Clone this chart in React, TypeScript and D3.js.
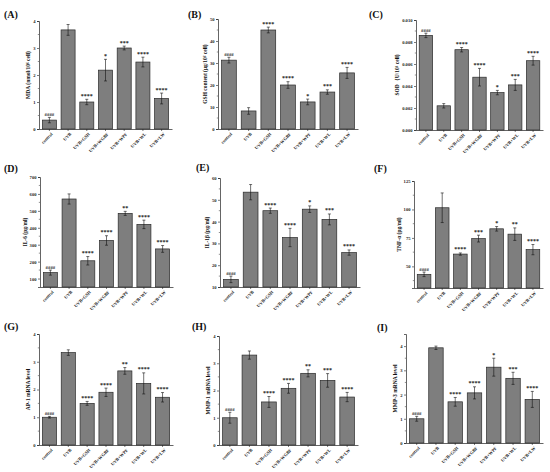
import { useRef, useEffect } from 'react';
import * as d3 from 'd3';

const categories = ['control', 'UVB', 'UVB+GSH', 'UVB+WGBF', 'UVB+WPF', 'UVB+WL', 'UVB+LW'];

// per-panel values
const mdaMean = [0.33, 3.67, 1.0, 2.18, 3.0, 2.48, 1.13];
const mdaErr = [0.1, 0.2, 0.1, 0.4, 0.07, 0.18, 0.2];
const mdaSig = ['####', '', '****', '*', '***', '****', '****'];

const gshMean = [31.3, 8.2, 45.0, 20.0, 12.3, 16.8, 25.5];
const gshErr = [1.3, 1.5, 1.3, 1.5, 1.3, 1.0, 2.5];
const gshSig = ['####', '', '****', '****', '*', '***', '****'];

const sodMean = [0.0086, 0.0022, 0.0073, 0.0048, 0.0034, 0.0041, 0.0063];
const sodErr = [0.0002, 0.0002, 0.0002, 0.0008, 0.0002, 0.0005, 0.0004];
const sodSig = ['####', '', '****', '****', '*', '***', '****'];

const il6Mean = [135, 570, 205, 325, 485, 420, 275];
const il6Err = [15, 30, 25, 28, 12, 25, 20];
const il6Sig = ['####', '', '****', '****', '**', '****', '****'];

const il1bMean = [13.5, 53.5, 45.0, 32.7, 45.7, 41.0, 25.8];
const il1bErr = [1.5, 3.5, 1.2, 4.2, 1.5, 2.5, 1.2];
const il1bSig = ['####', '', '****', '****', '*', '***', '****'];

const tnfMean = [43, 101.5, 60.8, 74.4, 83, 78.3, 64.7];
const tnfErr = [2, 13, 1, 3, 2, 5.5, 4.5];
const tnfSig = ['####', '', '****', '***', '*', '**', '****'];

const ap1Mean = [1.0, 3.33, 1.5, 1.9, 2.67, 2.22, 1.72];
const ap1Err = [0.03, 0.1, 0.07, 0.15, 0.12, 0.38, 0.17];
const ap1Sig = ['####', '', '****', '****', '**', '****', '****'];

const mmp1Mean = [1.0, 3.3, 1.58, 2.08, 2.63, 2.37, 1.76];
const mmp1Err = [0.2, 0.15, 0.2, 0.18, 0.13, 0.25, 0.17];
const mmp1Sig = ['####', '', '****', '****', '**', '***', '****'];

const mmp3Mean = [1.0, 3.93, 1.7, 2.07, 3.13, 2.67, 1.8];
const mmp3Err = [0.1, 0.07, 0.18, 0.25, 0.37, 0.25, 0.33];
const mmp3Sig = ['####', '', '****', '****', '*', '***', '****'];

const panels = [
  { letter: '(A)', label: 'MDA (nmol/10⁶ cell)', mean: mdaMean, err: mdaErr, sig: mdaSig, domain: [0, 4], ticks: [0, 1, 2, 3, 4], fmt: '' },
  { letter: '(B)', label: 'GSH content (μg/10⁶ cell)', mean: gshMean, err: gshErr, sig: gshSig, domain: [0, 50], ticks: [0, 10, 20, 30, 40, 50], fmt: '' },
  { letter: '(C)', label: 'SOD（U/10⁴ cell)', mean: sodMean, err: sodErr, sig: sodSig, domain: [0, 0.01], ticks: [0, 0.002, 0.004, 0.006, 0.008, 0.01], fmt: '.3f' },
  { letter: '(D)', label: 'IL-6 (pg/ml)', mean: il6Mean, err: il6Err, sig: il6Sig, domain: [50, 700], ticks: [100, 200, 300, 400, 500, 600, 700], fmt: '' },
  { letter: '(E)', label: 'IL-1β (pg/ml)', mean: il1bMean, err: il1bErr, sig: il1bSig, domain: [10, 60], ticks: [10, 20, 30, 40, 50, 60], fmt: '' },
  { letter: '(F)', label: 'TNF-α (pg/ml)', mean: tnfMean, err: tnfErr, sig: tnfSig, domain: [31, 125], ticks: [50, 75, 100, 125], fmt: '' },
  { letter: '(G)', label: 'AP-1 mRNA level', mean: ap1Mean, err: ap1Err, sig: ap1Sig, domain: [0, 4], ticks: [0, 1, 2, 3, 4], fmt: '' },
  { letter: '(H)', label: 'MMP-1 mRNA level', mean: mmp1Mean, err: mmp1Err, sig: mmp1Sig, domain: [0, 4], ticks: [0, 1, 2, 3, 4], fmt: '' },
  { letter: '(I)', label: 'MMP-3 mRNA level', mean: mmp3Mean, err: mmp3Err, sig: mmp3Sig, domain: [0, 4.5], ticks: [0, 1, 2, 3, 4], fmt: '' },
];

// plot frames: [left, right, top, bottom], and letter position
const frames = [
  [39, 172, 21, 129], [218, 358, 19, 129], [416, 543, 20, 130],
  [40, 173, 177, 287], [220, 360, 178, 287], [414, 543, 181, 288],
  [39, 173, 334, 445], [219, 358, 336, 445], [406, 543, 334, 443],
];
const letterPos = [
  [4, 18], [188, 18], [369, 18],
  [4, 172], [196, 171], [374, 172],
  [4, 330], [192, 330], [377, 331],
];

const FONT = '"Liberation Serif", "Times New Roman", serif';

export default function App() {
  const svgRef = useRef<SVGSVGElement>(null);

  useEffect(() => {
    if (!svgRef.current) return;
    const svg = d3.select(svgRef.current);
    svg.selectAll('*').remove();

    panels.forEach((p, i) => {
      const [left, right, top, bottom] = frames[i];
      const g = svg.append('g').style('font-family', FONT).style('font-weight', 'bold');

      const x = d3.scaleBand<string>()
        .domain(categories)
        .range([left, right])
        .paddingInner(0.25)
        .paddingOuter(0.18);
      const y = d3.scaleLinear().domain(p.domain).range([bottom, top]);

      // letter
      g.append('text')
        .attr('x', letterPos[i][0])
        .attr('y', letterPos[i][1])
        .attr('font-size', 10)
        .attr('fill', '#111')
        .text(p.letter);

      // bars
      const data = categories.map((c, k) => ({ c, v: p.mean[k], e: p.err[k], s: p.sig[k] }));
      g.selectAll('.bar')
        .data(data)
        .enter().append('rect')
        .attr('x', d => x(d.c) || 0)
        .attr('y', d => y(d.v))
        .attr('width', x.bandwidth())
        .attr('height', d => y(p.domain[0]) - y(d.v))
        .attr('fill', '#7e7e7e')
        .attr('stroke', '#2a2a2a')
        .attr('stroke-width', 0.7);

      // error bars
      const eb = g.append('g').attr('stroke', '#111').attr('stroke-width', 0.6);
      data.forEach(d => {
        const cx = (x(d.c) || 0) + x.bandwidth() / 2;
        eb.append('line').attr('x1', cx).attr('x2', cx).attr('y1', y(d.v - d.e)).attr('y2', y(d.v + d.e));
        eb.append('line').attr('x1', cx - 1.5).attr('x2', cx + 1.5).attr('y1', y(d.v - d.e)).attr('y2', y(d.v - d.e));
        eb.append('line').attr('x1', cx - 1.5).attr('x2', cx + 1.5).attr('y1', y(d.v + d.e)).attr('y2', y(d.v + d.e));
      });

      // significance marks
      g.selectAll('.sig')
        .data(data)
        .enter().append('text')
        .attr('x', d => (x(d.c) || 0) + x.bandwidth() / 2)
        .attr('y', d => y(d.v + d.e) - 1.5)
        .attr('text-anchor', 'middle')
        .attr('font-size', d => (d.s.startsWith('#') ? 4.8 : 6))
        .attr('fill', '#222')
        .text(d => d.s);

      // y axis
      const fmt = p.fmt ? d3.format(p.fmt) : d3.format('');
      const yAxis = g.append('g')
        .attr('transform', `translate(${left},0)`)
        .call(d3.axisLeft(y).tickValues(p.ticks).tickSize(2).tickPadding(1.5).tickFormat(d => fmt(d as number)));
      yAxis.selectAll('text').attr('font-size', 4.6).attr('fill', '#222').style('font-family', FONT);
      yAxis.select('.domain').attr('stroke', '#222').attr('stroke-width', 0.7);
      yAxis.selectAll('.tick line').attr('stroke', '#222').attr('stroke-width', 0.6);

      // minor ticks
      const step = p.ticks[1] - p.ticks[0];
      const minors = d3.range(p.ticks[0] - step / 2, p.domain[1] + 1e-9, step)
        .filter(v => v > p.domain[0] && v < p.domain[1]);
      g.selectAll('.minor')
        .data(minors)
        .enter().append('line')
        .attr('x1', left - 1.2)
        .attr('x2', left)
        .attr('y1', d => y(d))
        .attr('y2', d => y(d))
        .attr('stroke', '#222')
        .attr('stroke-width', 0.5);

      // x axis
      const xAxis = g.append('g')
        .attr('transform', `translate(0,${bottom})`)
        .call(d3.axisBottom(x).tickSize(2).tickSizeOuter(0));
      xAxis.select('.domain').attr('stroke', '#222').attr('stroke-width', 0.7);
      xAxis.selectAll('.tick line').attr('stroke', '#222').attr('stroke-width', 0.6);
      xAxis.selectAll('text')
        .attr('font-size', 4.5)
        .attr('fill', '#222')
        .style('font-family', FONT)
        .style('text-anchor', 'end')
        .attr('dx', '-0.3em')
        .attr('dy', '0.3em')
        .attr('transform', 'rotate(-45)');

      // y label
      const tickW = d3.max(p.ticks.map(t => fmt(t).length)) || 1;
      g.append('text')
        .attr('transform', `translate(${left - 6.5 - tickW * 2.2},${(top + bottom) / 2}) rotate(-90)`)
        .attr('text-anchor', 'middle')
        .attr('font-size', 5.5)
        .attr('fill', '#111')
        .text(p.label);
    });
  }, []);

  return (
    <div style={{ position: 'absolute', left: 0, top: 0 }}>
      <svg ref={svgRef} width={550} height={472} style={{ display: 'block', background: '#fff' }} />
    </div>
  );
}
